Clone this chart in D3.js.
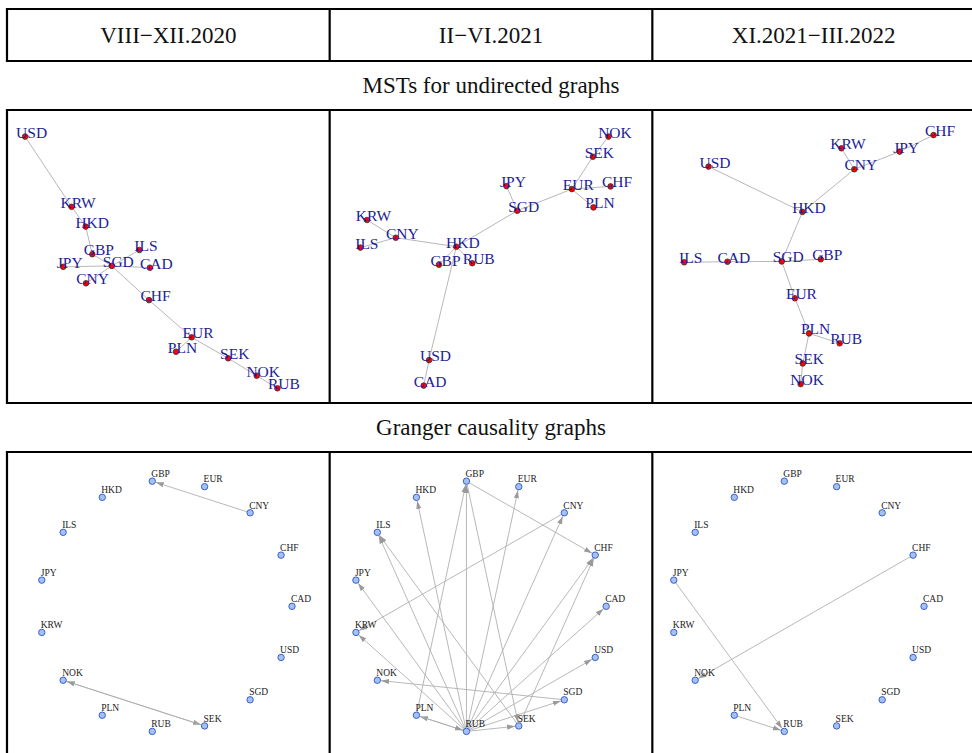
<!DOCTYPE html>
<html>
<head>
<meta charset="utf-8">
<script src="https://cdn.jsdelivr.net/npm/d3@7"></script>
<style>
  body { margin: 0; background: #fff; }
  text { font-family: "Liberation Serif", "Times New Roman", serif; }
</style>
</head>
<body>
<svg id="fig" width="972" height="753"></svg>
<script>
// currencies, alphabetical (this is also the order of the circle layout)
const currencies = ["CAD", "CHF", "CNY", "EUR", "GBP", "HKD", "ILS", "JPY", "KRW", "NOK", "PLN", "RUB", "SEK", "SGD", "USD"];
const periods = ["VIII\u2212XII.2020", "II\u2212VI.2021", "XI.2021\u2212III.2022"];
const rowTitles = ["MSTs for undirected graphs", "Granger causality graphs"];

// MST layout coordinates (0-100), same order as currencies
const mstX1 = [44.3, 44, 23, 58.2, 25.1, 22.9, 40.8, 15.4, 18.2, 79.9, 53, 86.8, 70.4, 31.6, 2.7];
const mstY1 = [44.1, 33.3, 38.9, 20.9, 48.6, 57.8, 50, 44.4, 64.4, 8.1, 16.1, 3.9, 13.9, 44.7, 87.8];
const mstX2 = [28, 90.3, 18.7, 77.4, 33.1, 38.9, 6.9, 55.6, 9.1, 89.6, 84.6, 44.2, 84.4, 59.2, 29.8];
const mstY2 = [4.8, 71.2, 54.1, 70.3, 45.1, 51.1, 50.8, 71.3, 60, 87.8, 64.2, 45.6, 81.1, 63.1, 13.3];
const mstX3 = [21.7, 90.4, 64, 44.2, 52.8, 46.7, 7.3, 79.1, 59.7, 46.1, 48.9, 59.1, 46.8, 39.8, 15.4];
const mstY3 = [46.1, 88.3, 76.9, 33.9, 46.9, 62.7, 45.9, 82.8, 83.9, 5.3, 22.2, 18.9, 12.2, 46.2, 77.8];

const mstEdges1 = [["USD","KRW"],["KRW","HKD"],["HKD","GBP"],["GBP","SGD"],["ILS","SGD"],["JPY","SGD"],["CAD","SGD"],["CNY","SGD"],["SGD","CHF"],["CHF","EUR"],["EUR","PLN"],["EUR","SEK"],["SEK","NOK"],["NOK","RUB"]];
const mstEdges2 = [["NOK","SEK"],["SEK","EUR"],["EUR","CHF"],["EUR","PLN"],["EUR","SGD"],["SGD","JPY"],["SGD","HKD"],["HKD","CNY"],["CNY","KRW"],["CNY","ILS"],["HKD","GBP"],["HKD","RUB"],["HKD","USD"],["USD","CAD"]];
const mstEdges3 = [["CHF","JPY"],["JPY","CNY"],["KRW","CNY"],["CNY","HKD"],["USD","HKD"],["HKD","SGD"],["ILS","CAD"],["CAD","SGD"],["SGD","GBP"],["SGD","EUR"],["EUR","PLN"],["PLN","RUB"],["PLN","SEK"],["SEK","NOK"]];

// Granger causality: [from, to]
const grangerEdges1 = [["CNY","GBP"],["NOK","SEK"],["SEK","NOK"]];
const grangerEdges2 = [["RUB","GBP"],["RUB","HKD"],["RUB","ILS"],["RUB","JPY"],["RUB","KRW"],["RUB","EUR"],["RUB","CNY"],["RUB","CHF"],["RUB","CAD"],["RUB","USD"],["RUB","SGD"],["RUB","SEK"],["RUB","PLN"],["PLN","RUB"],["PLN","GBP"],["GBP","CHF"],["GBP","SEK"],["SEK","ILS"],["CNY","KRW"],["SGD","NOK"],["SEK","CHF"]];
const grangerEdges3 = [["JPY","RUB"],["PLN","RUB"],["CHF","NOK"]];

const mstData = [
  { x: mstX1, y: mstY1, edges: mstEdges1 },
  { x: mstX2, y: mstY2, edges: mstEdges2 },
  { x: mstX3, y: mstY3, edges: mstEdges3 }
];
const grangerData = [grangerEdges1, grangerEdges2, grangerEdges3];

const svg = d3.select("svg#fig");
const lineW = 2.2;

const colScale = d3.scaleBand().domain(periods).range([7, 975]);
const rows = { headTop: 9, headBottom: 61, mstTop: 110, mstBottom: 403, grTop: 452, grBottom: 790 };

// table lines
const frame = svg.append("g").attr("id", "frame")
  .attr("stroke", "#000").attr("stroke-width", lineW);
[rows.headTop, rows.headBottom, rows.mstTop, rows.mstBottom, rows.grTop].forEach(y => {
  frame.append("line").attr("x1", 7 - lineW / 2).attr("x2", 980).attr("y1", y).attr("y2", y);
});
const bandEdges = periods.map(p => colScale(p));
[[rows.headTop, rows.headBottom], [rows.mstTop, rows.mstBottom], [rows.grTop, rows.grBottom]].forEach(([y1, y2]) => {
  bandEdges.forEach(x => {
    frame.append("line").attr("x1", x).attr("x2", x).attr("y1", y1).attr("y2", y2);
  });
});

// header text
const titleSize = 23;
svg.append("g").selectAll("text").data(periods).join("text")
  .attr("x", d => colScale(d) + colScale.bandwidth() / 2)
  .attr("y", (rows.headTop + rows.headBottom) / 2 + 7.5)
  .attr("text-anchor", "middle")
  .attr("font-size", titleSize)
  .attr("fill", "#111")
  .text(d => d);

const midX = colScale(periods[1]) + colScale.bandwidth() / 2;
svg.append("text").attr("x", midX).attr("y", (rows.headBottom + rows.mstTop) / 2 + 7.5)
  .attr("text-anchor", "middle").attr("font-size", titleSize).attr("fill", "#111").text(rowTitles[0]);
svg.append("text").attr("x", midX).attr("y", (rows.mstBottom + rows.grTop) / 2 + 7.5)
  .attr("text-anchor", "middle").attr("font-size", titleSize).attr("fill", "#111").text(rowTitles[1]);

// MST panels
mstData.forEach((m, i) => {
  const x0 = colScale(periods[i]);
  const xScale = d3.scaleLinear().domain([0, 100]).range([x0 + 10, x0 + 310]);
  const yScale = d3.scaleLinear().domain([0, 100]).range([400, 100]);
  const nodes = currencies.map((c, k) => ({ id: c, px: xScale(m.x[k]), py: yScale(m.y[k]) }));
  const byId = new Map(nodes.map(n => [n.id, n]));
  const g = svg.append("g").attr("class", "mst");
  g.selectAll("line").data(m.edges).join("line")
    .attr("x1", d => byId.get(d[0]).px).attr("y1", d => byId.get(d[0]).py)
    .attr("x2", d => byId.get(d[1]).px).attr("y2", d => byId.get(d[1]).py)
    .attr("stroke", "#b8b8b8").attr("stroke-width", 1);
  g.selectAll("circle").data(nodes).join("circle")
    .attr("cx", d => d.px).attr("cy", d => d.py).attr("r", 2.8)
    .attr("fill", "#f00").attr("stroke", "#333").attr("stroke-width", 0.8);
  g.selectAll("text").data(nodes).join("text")
    .attr("x", d => d.px + 6.5).attr("y", d => d.py + 1)
    .attr("text-anchor", "middle").attr("font-size", 15.5)
    .attr("fill", "#1c1c96")
    .text(d => d.id);
});

// Granger panels (circle layout)
const defs = svg.append("defs");
defs.append("marker").attr("id", "arrow")
  .attr("viewBox", "0 -3 8 6").attr("refX", 8).attr("refY", 0)
  .attr("markerWidth", 8).attr("markerHeight", 6)
  .attr("markerUnits", "userSpaceOnUse").attr("orient", "auto")
  .append("path").attr("d", "M0,-2.6L8,0L0,2.6Z").attr("fill", "#9a9a9a");

const angle = d3.scalePoint().domain(currencies).range([0, 2 * Math.PI * 14 / 15]);
const circleCx = [158.5, 150, 145.2];
const circleCy = 606.3;
const rx = 126.5, ry = 125.8, nodeR = 3.2;

grangerData.forEach((edges, i) => {
  const cx = colScale(periods[i]) + circleCx[i];
  const xScale = d3.scaleLinear().domain([-1, 1]).range([cx - rx, cx + rx]);
  const yScale = d3.scaleLinear().domain([-1, 1]).range([circleCy + ry, circleCy - ry]);
  const nodes = currencies.map(c => ({
    id: c,
    px: xScale(Math.cos(angle(c))),
    py: yScale(Math.sin(angle(c)))
  }));
  const byId = new Map(nodes.map(n => [n.id, n]));
  const g = svg.append("g").attr("class", "granger");
  g.selectAll("line").data(edges).join("line")
    .each(function (d) {
      const s = byId.get(d[0]), t = byId.get(d[1]);
      const dx = t.px - s.px, dy = t.py - s.py, len = Math.hypot(dx, dy);
      const ux = dx / len, uy = dy / len;
      d3.select(this)
        .attr("x1", s.px + ux * nodeR).attr("y1", s.py + uy * nodeR)
        .attr("x2", t.px - ux * (nodeR + 0.5)).attr("y2", t.py - uy * (nodeR + 0.5));
    })
    .attr("stroke", "#b0b0b0").attr("stroke-width", 0.9)
    .attr("marker-end", "url(#arrow)");
  g.selectAll("circle").data(nodes).join("circle")
    .attr("cx", d => d.px).attr("cy", d => d.py).attr("r", nodeR)
    .attr("fill", "#a3c2f2").attr("stroke", "#3b5fd0").attr("stroke-width", 1);
  g.selectAll("text").data(nodes).join("text")
    .attr("x", d => d.px - 1).attr("y", d => d.py - 4.3)
    .attr("font-size", 9.5).attr("fill", "#222")
    .text(d => d.id);
});
</script>
</body>
</html>
